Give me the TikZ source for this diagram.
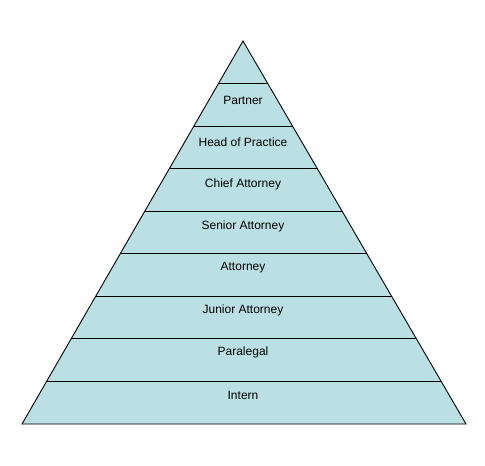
\documentclass[tikz,border=0pt]{standalone}
\usepackage{fontspec}
\setmainfont{Liberation Sans}
\usepackage{xcolor}
\usepackage{tikz}
\usetikzlibrary{calc}
\definecolor{pyrfill}{RGB}{187,224,227}

\begin{document}
\begin{tikzpicture}[x=1pt, y=-1pt, font=\fontsize{12}{14}\selectfont,
  lvl/.style={inner sep=1pt},
  edge/.style={draw, line width=0.9pt, line join=miter}]
\useasboundingbox (0,0) rectangle (485,466);
\coordinate (apex) at (243,41);
\coordinate (bl) at (22,424);
\coordinate (br) at (466,424);
\fill[pyrfill] (apex) -- (bl) -- (br) -- cycle;
\foreach \i in {1,...,8}
  \draw[edge] ($(apex)!\i/9!(bl)$) -- ($(apex)!\i/9!(br)$);
\draw[edge] (apex) -- (bl) -- (br) -- cycle;
\node[lvl] (partner)   at (243,100) {Partner};
\node[lvl] (head)      at (243,142) {Head of Practice};
\node[lvl] (chief)     at (243,184) {Chief Attorney};
\node[lvl] (senior)    at (243,226) {Senior Attorney};
\node[lvl] (attorney)  at (243,268) {Attorney};
\node[lvl] (junior)    at (243,310) {Junior Attorney};
\node[lvl] (paralegal) at (243,352) {Paralegal};
\node[lvl] (intern)    at (243,395) {Intern};
\end{tikzpicture}
\end{document}
